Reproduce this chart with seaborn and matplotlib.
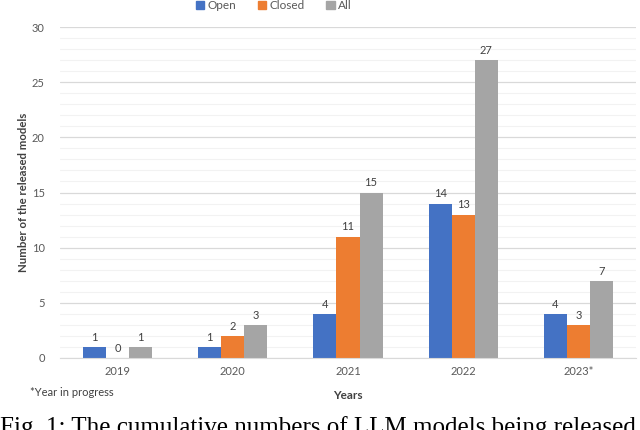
import pandas as pd
import numpy as np
import matplotlib.pyplot as plt
import seaborn as sns

years = ['2019', '2020', '2021', '2022', '2023*']
open_models = [1, 1, 4, 14, 4]
closed_models = [0, 2, 11, 13, 3]
all_models = [1, 3, 15, 27, 7]
series = ['Open', 'Closed', 'All']
colors = ['#4472C4', '#ED7D31', '#A5A5A5']

df = pd.DataFrame({
    'Year': years * 3,
    'Type': [s for s in series for _ in years],
    'Count': open_models + closed_models + all_models,
})

sns.set_style('white')
plt.rcParams['font.family'] = ['Lato', 'DejaVu Sans']

fig = plt.figure(figsize=(6.4, 4.3), dpi=100)
ax = fig.add_axes([60 / 640, 1 - 358 / 430, 576 / 640, 331 / 430])

sns.barplot(data=df, x='Year', y='Count', hue='Type', palette=colors,
            width=0.6, ax=ax, legend=False, saturation=1, linewidth=0)

for c in ax.containers:
    ax.bar_label(c, fmt='%d', padding=3, fontsize=8, color='#404040')

ax.set_ylim(0, 30)
ax.set_yticks(range(0, 31, 5))
ax.set_yticks(range(0, 31, 1), minor=True)
ax.grid(axis='y', which='major', color='#D9D9D9', linewidth=0.9)
ax.grid(axis='y', which='minor', color='#F2F2F2', linewidth=0.8)
ax.set_axisbelow(True)
for s in ['top', 'right', 'left']:
    ax.spines[s].set_visible(False)
ax.spines['bottom'].set_color('#D9D9D9')
ax.tick_params(axis='both', which='both', length=0, labelsize=8, colors='#595959')
ax.tick_params(axis='y', pad=11)
ax.tick_params(axis='x', pad=6)

ax.set_xlabel('Years', fontsize=8.5, fontweight='bold', color='#404040', labelpad=9)
ax.set_ylabel('Number of the released models', fontsize=8.2, fontweight='bold',
              color='#404040', labelpad=2)

handles = [plt.Rectangle((0, 0), 1, 1, color=c) for c in colors]
fig.legend(handles, series, loc='upper center', bbox_to_anchor=(274 / 640, 1.025),
           ncol=3, frameon=False, fontsize=8.5, handlelength=0.7, handleheight=0.7,
           handletextpad=0.3, columnspacing=1.8, labelcolor='#595959')

fig.text(30 / 640, 1 - 393 / 430, '*Year in progress', fontsize=8, color='#404040',
         va='center', ha='left')

fig.text(0.0, 1 - 416 / 430, 'Fig. 1: The cumulative numbers of LLM models being released',
         fontsize=18, family=['Liberation Serif', 'DejaVu Serif'], color='black',
         va='top', ha='left')

plt.savefig('out.png', dpi=100)
